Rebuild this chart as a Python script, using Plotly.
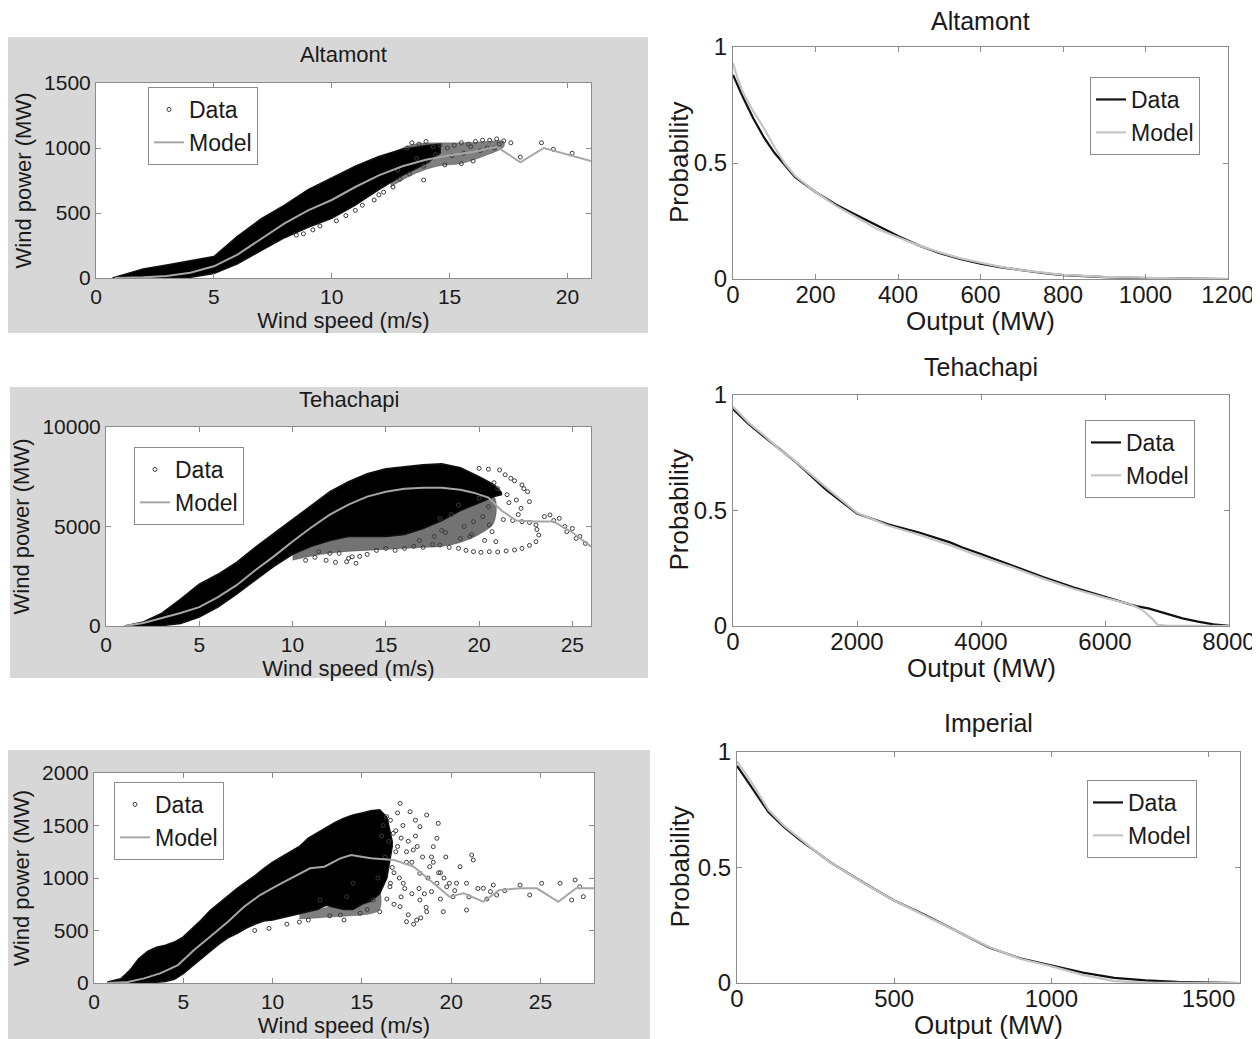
import plotly.graph_objects as go

# ---------------- data ----------------
# Altamont power curve: dense band, sparse fringe band, individual scattered points, model
alt_env_ws = [0.7, 1.5, 2, 3, 4, 5, 6, 7, 8, 9, 10, 11, 12, 13, 14, 14.6]
alt_env_hi = [0, 40, 70, 100, 130, 165, 320, 455, 560, 680, 770, 860, 935, 990, 1020, 1030]
alt_env_lo = [0, 0, 0, 0, 5, 35, 110, 210, 310, 390, 460, 560, 680, 790, 880, 960]
alt_fr_ws = [12.5, 13.5, 14.5, 15.5, 16.5, 17.3]
alt_fr_hi = [960, 1030, 1040, 1040, 1050, 1050]
alt_fr_lo = [700, 800, 860, 880, 940, 1010]
alt_sp_ws = [8.5, 8.8, 9.2, 9.5, 10.2, 10.6, 11.3, 11.8, 12.2, 12.6, 12.9, 13.2, 13.4, 13.7, 14.0,
             14.3, 14.6, 14.9, 15.2, 15.5, 15.8, 16.1, 16.4, 16.7, 17.0, 17.3, 15.1, 15.6, 16.0, 14.1,
             13.9, 16.9, 17.6, 18.0, 18.9, 19.4, 20.2, 12.0, 11.0, 14.8, 13.9, 13.3, 15.5, 16.3, 15.9,
             14.4, 13.6, 12.8, 16.6, 17.1]
alt_sp_mw = [330, 340, 370, 400, 440, 480, 560, 600, 660, 700, 760, 1000, 1040, 1030, 1050,
             1010, 1020, 1000, 1020, 1040, 1030, 1050, 1060, 1060, 1070, 1055, 940, 960, 900, 900,
             860, 1000, 1040, 930, 1040, 990, 960, 640, 520, 870, 754, 800, 880, 980, 1010,
             950, 920, 830, 1000, 1030]
alt_model_ws = [0.8, 2, 3, 4, 5, 6, 7, 8, 9, 10, 11, 12, 13, 14, 15, 16, 17, 18, 19, 20, 21]
alt_model_mw = [0, 5, 15, 40, 90, 180, 300, 420, 520, 600, 700, 790, 860, 910, 945, 970, 1010, 890, 1000, 950, 900]

# Tehachapi power curve
teh_env_ws = [1.0, 2, 3, 4, 5, 6, 7, 8, 9, 10, 11, 12, 13, 14, 15, 16, 17, 18, 19, 20, 20.8, 21.2]
teh_env_hi = [0, 200, 650, 1350, 2100, 2600, 3200, 3950, 4650, 5350, 6050, 6750, 7250, 7650, 7900, 8000, 8100, 8150, 7950, 7500, 7100, 6700]
teh_env_lo = [0, 0, 20, 120, 450, 950, 1600, 2300, 3000, 3600, 4000, 4300, 4500, 4500, 4500, 4600, 4900, 5300, 5800, 6200, 6500, 6600]
teh_fr_ws = [10, 11, 12, 13, 14, 15, 16, 17, 18, 19, 20, 20.8]
teh_fr_hi = [3700, 4100, 4500, 4600, 4600, 4600, 4700, 5000, 5400, 5900, 6300, 6500]
teh_fr_lo = [3300, 3500, 3650, 3750, 3800, 3850, 3900, 3950, 4000, 4200, 4600, 5200]
teh_sp_ws = [11.4, 12.0, 12.5, 12.9, 13.2, 13.4, 13.0, 11.8, 12.3, 14.5, 15.0, 15.5, 16.0, 16.5, 17.0, 17.5,
             17.9, 18.4, 18.9, 19.3, 19.7, 20.1, 20.55, 21.0, 21.45, 21.9, 22.3, 22.7, 23.05, 23.2, 23.1, 23.05,
             22.7, 22.3, 21.8, 21.3, 20.0, 20.5, 21.1, 21.7, 22.3, 22.6, 22.7, 22.25, 22.0, 21.5, 21.0, 20.8,
             19.7, 20.55, 18.9, 20.0, 20.5, 17.9, 18.5, 20.7, 20.9, 19.2, 18.0, 19.5, 20.2,
             23.8, 24.3, 24.7, 25.2, 25.7, 24.0, 25.0, 23.5, 10.7, 11.2, 21.4, 21.9, 22.4, 21.6, 22.1,
             19.0, 19.6, 20.3, 16.8, 17.6, 18.2, 14.0, 13.6, 24.6, 25.4]
teh_sp_mw = [3735, 3650, 3650, 3230, 3480, 3150, 3400, 3300, 3200, 3800, 3900, 3800, 3900, 4000, 3950, 4100,
             4070, 3950, 3900, 3800, 3735, 3700, 3735, 3720, 3770, 3820, 3900, 4050, 4240, 4570, 4850, 5075,
             5200, 5240, 5300, 5350, 7920, 7880, 7840, 7420, 7090, 6750, 6250, 5910, 6330, 6600, 6900, 7200,
             5240, 5075, 6080, 6420, 6000, 5410, 5600, 4740, 4240, 5000, 4800, 4500, 5500,
             5580, 5410, 4740, 4400, 4150, 5300, 4900, 5500, 3300, 3450, 7600, 7300, 6900, 6200, 5600,
             4400, 4600, 4300, 4300, 4500, 4700, 3600, 3500, 5000, 4500]
teh_model_ws = [1.0, 2, 3, 4, 5, 6, 7, 8, 9, 10, 11, 12, 13, 14, 15, 16, 17, 18, 19, 19.7, 20.5, 21.2, 22, 23, 24, 25, 26]
teh_model_mw = [0, 150, 400, 650, 950, 1450, 2050, 2800, 3500, 4250, 4950, 5600, 6100, 6500, 6750, 6900, 6950,
                6950, 6850, 6700, 6450, 5800, 5300, 5250, 5250, 4700, 4000]

# Imperial power curve
imp_env_ws = [0.75, 1.5, 2.0, 2.5, 3.0, 3.5, 4.0, 4.5, 5.0, 5.5, 6.0, 6.5, 7.0, 7.5, 8.0, 8.5, 9.0, 9.5,
              10.0, 10.5, 11.0, 11.5, 12.0, 12.5, 13.0, 13.5, 14.0, 14.5, 15.0, 15.5, 16.0, 16.4, 16.7]
imp_env_hi = [10, 40, 120, 230, 300, 340, 360, 390, 440, 520, 600, 690, 760, 830, 900, 960, 1020, 1090,
              1150, 1200, 1250, 1300, 1380, 1430, 1480, 1530, 1570, 1600, 1620, 1640, 1650, 1580, 1350]
imp_env_lo = [0, 0, 0, 0, 5, 8, 15, 35, 90, 160, 230, 300, 370, 430, 470, 520, 560, 590,
              600, 620, 640, 660, 680, 700, 740, 720, 700, 700, 750, 780, 850, 1000, 1300]
imp_fr_ws = [11.5, 12.5, 13.5, 14.5, 15.5, 16.0]
imp_fr_hi = [670, 700, 730, 710, 790, 860]
imp_fr_lo = [610, 620, 630, 640, 660, 700]
imp_sp_ws = [17.14, 17.7, 18.63, 19.28, 19.2, 19.0, 21.15, 21.24, 20.5, 20.86, 19.56, 20.86, 17.5, 18.07, 18.63,
             17.14, 16.0, 14.9, 13.8, 21.8, 22.36, 22.55, 23.86, 24.4, 25.07, 26.1, 26.94, 27.4, 27.2, 26.75,
             20.1, 19.75, 18.25, 17.32, 17.88, 16.76, 18.25, 16.39, 18.8, 19.2, 18.25, 16.57, 15.64, 14.15, 14.5,
             12.66, 17.5, 16.8, 17.0, 18.0, 16.6, 17.3, 19.6, 20.2, 21.0, 22.0, 21.5, 12.0, 11.5, 10.8, 9.8,
             9.0, 13.2, 14.0, 15.3, 17.6, 17.9, 18.3, 18.6, 17.0, 16.9, 18.9, 19.4, 20.3, 22.2, 23.0,
             16.2, 16.5, 16.9, 17.2, 17.5, 17.8, 18.1, 18.4, 18.7, 19.0, 19.3, 16.3, 16.7, 17.1, 17.4,
             17.8, 18.2, 18.5, 16.4, 16.8, 17.2, 18.9, 19.4, 16.1, 17.6, 18.0, 19.7, 19.9, 15.9, 16.6]
imp_sp_mw = [1711, 1631, 1600, 1521, 1378, 1298, 1219, 1171, 1108, 950, 679, 695, 584, 600, 679,
             727, 679, 664, 648, 902, 933, 838, 933, 838, 950, 950, 981, 822, 917, 790,
             822, 917, 1045, 950, 1267, 1426, 1489, 1584, 1108, 950, 790, 917, 790, 822, 950,
             790, 1150, 1050, 1300, 1400, 1550, 1500, 1000, 880, 820, 800, 900, 600, 580, 560, 520,
             500, 640, 600, 700, 650, 560, 620, 720, 1620, 1250, 1200, 1050, 950, 870, 880,
             1500, 1350, 1450, 1380, 1250, 1150, 1300, 1200, 1000, 1150, 1050, 1200, 1100, 1000, 900,
             850, 900, 850, 800, 750, 820, 870, 800, 1400, 1350, 1550, 1200, 950, 1000, 950]
imp_model_ws = [0.75, 1.9, 2.8, 3.7, 4.7, 5.6, 6.5, 7.5, 8.4, 9.3, 10.3, 11.2, 12.1, 12.9, 13.8, 14.4, 15.0,
                15.5, 16.8, 17.9, 18.8, 19.9, 20.7, 21.8, 22.7, 23.9, 24.8, 26.0, 27.0, 28.0]
imp_model_mw = [0, 10, 44, 92, 171, 314, 441, 584, 727, 838, 933, 1013, 1092, 1108, 1187, 1219, 1200,
                1188, 1171, 1108, 981, 822, 854, 774, 886, 902, 902, 774, 902, 902]

# Exceedance probability curves
alt_out = [0, 10, 25, 50, 75, 100, 125, 150, 200, 250, 300, 350, 400, 450, 500, 550, 600, 650, 700, 750, 800, 900, 1000, 1100, 1200]
alt_p_data = [0.88, 0.84, 0.78, 0.69, 0.61, 0.545, 0.49, 0.44, 0.375, 0.32, 0.275, 0.23, 0.185, 0.145, 0.112,
              0.087, 0.066, 0.05, 0.037, 0.026, 0.017, 0.008, 0.004, 0.001, 0]
alt_p_model = [0.93, 0.87, 0.80, 0.72, 0.65, 0.57, 0.50, 0.445, 0.375, 0.315, 0.265, 0.215, 0.18, 0.145, 0.115,
               0.09, 0.07, 0.052, 0.038, 0.027, 0.018, 0.009, 0.004, 0.0015, 0.0005]

teh_out_data = [0, 250, 500, 750, 1000, 1500, 2000, 2500, 3000, 3500, 3700, 4000, 4500, 5000, 5500, 6000,
                6500, 6700, 7000, 7250, 7500, 7750, 8000]
teh_p_data = [0.94, 0.875, 0.82, 0.765, 0.713, 0.59, 0.487, 0.44, 0.405, 0.362, 0.34, 0.312, 0.262, 0.212,
              0.166, 0.126, 0.086, 0.076, 0.054, 0.033, 0.019, 0.007, 0.001]
teh_out_model = [0, 250, 500, 750, 1000, 1500, 2000, 2500, 3000, 3500, 4000, 4500, 5000, 5500, 6000, 6400,
                 6600, 6750, 6850, 7000, 7500, 8000]
teh_p_model = [0.95, 0.88, 0.825, 0.765, 0.715, 0.60, 0.49, 0.435, 0.395, 0.35, 0.30, 0.255, 0.205, 0.16,
               0.122, 0.095, 0.07, 0.035, 0.005, 0.002, 0.001, 0.0]

imp_out = [0, 25, 50, 100, 150, 200, 250, 300, 400, 500, 600, 700, 800, 900, 1000, 1100, 1200, 1300, 1400, 1500, 1600]
imp_p_data = [0.94, 0.89, 0.84, 0.74, 0.675, 0.62, 0.57, 0.52, 0.436, 0.357, 0.293, 0.225, 0.155, 0.107, 0.075,
              0.045, 0.022, 0.011, 0.005, 0.002, 0.0]
imp_p_model = [0.96, 0.91, 0.86, 0.75, 0.68, 0.625, 0.57, 0.52, 0.435, 0.357, 0.29, 0.222, 0.157, 0.105, 0.072,
               0.035, 0.008, 0.002, 0.001, 0.0, 0.0]

# ---------------- styling / layout ----------------
OFF = 8                      # page body margin of the html page
W, H = 1260, 1039
FONT = "Liberation Sans, Arial, Helvetica, sans-serif"
TXT = "#1a1a1a"
AXC = "#8c8c8c"
PANEL_GRAY = "#d7d7d7"


def fx(px):
    return max(0.0, (px - OFF) / W)


def fy(py):
    return min(1.0, 1 - (py - OFF) / H)


fig = go.Figure()


def ax_ids(n):
    return ("x" if n == 1 else f"x{n}"), ("y" if n == 1 else f"y{n}")


def add_power_panel(n, legend, env_ws, hi, lo, fr_ws, fr_hi, fr_lo, fr_alpha, sp_ws, sp_mw, m_ws, m_mw):
    xa, ya = ax_ids(n)
    fig.add_trace(go.Scatter(x=fr_ws + fr_ws[::-1], y=fr_hi + fr_lo[::-1], mode="lines", fill="toself",
                             fillcolor=f"rgba(0,0,0,{fr_alpha})", line=dict(color="rgba(0,0,0,0.2)", width=1),
                             line_shape="spline", showlegend=False, hoverinfo="skip", xaxis=xa, yaxis=ya))
    fig.add_trace(go.Scatter(x=env_ws + env_ws[::-1], y=hi + lo[::-1], mode="lines", fill="toself",
                             fillcolor="#000000", line=dict(color="#111111", width=1.5),
                             showlegend=False, hoverinfo="skip", xaxis=xa, yaxis=ya))
    fig.add_trace(go.Scatter(x=sp_ws, y=sp_mw, mode="markers", name="Data", legend=legend,
                             marker=dict(symbol="circle-open", size=4, color="#3c3c3c", line=dict(width=1)),
                             xaxis=xa, yaxis=ya))
    fig.add_trace(go.Scatter(x=m_ws, y=m_mw, mode="lines", name="Model", legend=legend,
                             line=dict(color="#a6a6a6", width=2), xaxis=xa, yaxis=ya))


def add_prob_panel(n, legend, xd, yd, xm, ym):
    xa, ya = ax_ids(n)
    fig.add_trace(go.Scatter(x=xd, y=yd, mode="lines", name="Data", legend=legend,
                             line=dict(color="#111111", width=2.2), xaxis=xa, yaxis=ya))
    fig.add_trace(go.Scatter(x=xm, y=ym, mode="lines", name="Model", legend=legend,
                             line=dict(color="#c4c4c4", width=2.2), xaxis=xa, yaxis=ya))


add_power_panel(1, "legend", alt_env_ws, alt_env_hi, alt_env_lo, alt_fr_ws, alt_fr_hi, alt_fr_lo, 0.5,
                alt_sp_ws, alt_sp_mw, alt_model_ws, alt_model_mw)
add_prob_panel(2, "legend2", alt_out, alt_p_data, alt_out, alt_p_model)
add_power_panel(3, "legend3", teh_env_ws, teh_env_hi, teh_env_lo, teh_fr_ws, teh_fr_hi, teh_fr_lo, 0.55,
                teh_sp_ws, teh_sp_mw, teh_model_ws, teh_model_mw)
add_prob_panel(4, "legend4", teh_out_data, teh_p_data, teh_out_model, teh_p_model)
add_power_panel(5, "legend5", imp_env_ws, imp_env_hi, imp_env_lo, imp_fr_ws, imp_fr_hi, imp_fr_lo, 0.5,
                imp_sp_ws, imp_sp_mw, imp_model_ws, imp_model_mw)
add_prob_panel(6, "legend6", imp_out, imp_p_data, imp_out, imp_p_model)

# panel geometry in reference pixels: (left, right, top, bottom)
geo = {
    1: (96, 591, 83, 278),
    2: (733, 1228, 47, 279),
    3: (106, 591, 427, 626),
    4: (733, 1229, 395, 626),
    5: (94, 594, 773, 983),
    6: (737, 1240, 752, 983),
}
axis_spec = {
    1: dict(xr=[0, 21], xt=[0, 5, 10, 15, 20], yr=[0, 1500], yt=[0, 500, 1000, 1500],
            xtitle="Wind speed (m/s)", ytitle="Wind power (MW)", tick=21, ttl=22),
    2: dict(xr=[0, 1200], xt=[0, 200, 400, 600, 800, 1000, 1200], yr=[0, 1], yt=[0, 0.5, 1],
            xtitle="Output (MW)", ytitle="Probability", tick=24, ttl=26),
    3: dict(xr=[0, 26], xt=[0, 5, 10, 15, 20, 25], yr=[0, 10000], yt=[0, 5000, 10000],
            xtitle="Wind speed (m/s)", ytitle="Wind power (MW)", tick=21, ttl=22),
    4: dict(xr=[0, 8000], xt=[0, 2000, 4000, 6000, 8000], yr=[0, 1], yt=[0, 0.5, 1],
            xtitle="Output (MW)", ytitle="Probability", tick=24, ttl=26),
    5: dict(xr=[0, 28], xt=[0, 5, 10, 15, 20, 25], yr=[0, 2000], yt=[0, 500, 1000, 1500, 2000],
            xtitle="Wind speed (m/s)", ytitle="Wind power (MW)", tick=21, ttl=22),
    6: dict(xr=[0, 1600], xt=[0, 500, 1000, 1500], yr=[0, 1], yt=[0, 0.5, 1],
            xtitle="Output (MW)", ytitle="Probability", tick=24, ttl=26),
}
right_panels = (2, 4, 6)

annotations = []
layout_axes = {}
for n, (l, r, t, b) in geo.items():
    s = axis_spec[n]
    xa, ya = ax_ids(n)
    xkey = "xaxis" if n == 1 else f"xaxis{n}"
    ykey = "yaxis" if n == 1 else f"yaxis{n}"
    common = dict(ticks="inside", ticklen=5, tickcolor=AXC, showline=True, linecolor=AXC, linewidth=1,
                  mirror="ticks", showgrid=False, zeroline=False, fixedrange=True, automargin=False,
                  tickfont=dict(family=FONT, size=s["tick"], color=TXT))
    xdict = dict(domain=[fx(l), fx(r)], range=s["xr"], tickvals=s["xt"], anchor=ya, tickformat="d", **common)
    ydict = dict(domain=[fy(b), fy(t)], range=s["yr"], tickvals=s["yt"], anchor=xa, **common)
    tfont = dict(family=FONT, size=s["ttl"], color=TXT)
    if n in right_panels:
        # MATLAB-like tight placement of the labels of the probability panels
        xdict["ticklabelstandoff"] = -6
        annotations.append(dict(text=s["xtitle"], x=fx((l + r) / 2), y=fy(b + 42), xref="paper", yref="paper",
                                xanchor="center", yanchor="middle", showarrow=False, font=tfont))
        annotations.append(dict(text=s["ytitle"], x=fx(679), y=fy((t + b) / 2), xref="paper", yref="paper",
                                xanchor="center", yanchor="middle", showarrow=False, textangle=-90, font=tfont))
    else:
        xdict["title"] = dict(text=s["xtitle"], standoff=0, font=tfont)
        ydict["title"] = dict(text=s["ytitle"], standoff=6, font=tfont)
    if s["yr"][1] > 1:
        ydict["tickformat"] = "d"
    layout_axes[xkey] = xdict
    layout_axes[ykey] = ydict

# legends (reference pixel positions of the top-left corner)
leg_pos = {
    "legend": (148, 87), "legend2": (1090, 77),
    "legend3": (134, 447), "legend4": (1085, 420),
    "legend5": (114, 782), "legend6": (1087, 780),
}
legends = {}
for k, (px, py) in leg_pos.items():
    legends[k] = dict(x=fx(px), y=fy(py), xanchor="left", yanchor="top", bgcolor="white",
                      bordercolor=AXC, borderwidth=1, itemwidth=30, tracegroupgap=0,
                      font=dict(family=FONT, size=23, color=TXT))

# gray figure backgrounds behind the left column, white plot areas on top
shapes = []
for (l, r, t, b) in [(8, 648, 37, 333), (10, 648, 387, 678), (7, 650, 750, 1039)]:
    shapes.append(dict(type="rect", xref="paper", yref="paper", x0=fx(l), x1=fx(r), y0=fy(b), y1=fy(t),
                       fillcolor=PANEL_GRAY, line=dict(width=0), layer="below"))
for n in (1, 3, 5):
    xa, ya = ax_ids(n)
    shapes.append(dict(type="rect", xref=f"{xa} domain", yref=f"{ya} domain", x0=0, x1=1, y0=0, y1=1,
                       fillcolor="white", line=dict(width=0), layer="below"))

# subplot titles
for n, text, size, gap in [(1, "Altamont", 22, 28), (3, "Tehachapi", 22, 27),
                           (2, "Altamont", 25, 26), (4, "Tehachapi", 25, 28), (6, "Imperial", 25, 29)]:
    l, r, t, b = geo[n]
    annotations.append(dict(text=text, x=fx((l + r) / 2), y=fy(t - gap), xref="paper", yref="paper",
                            xanchor="center", yanchor="middle", showarrow=False,
                            font=dict(family=FONT, size=size, color=TXT)))

fig.update_layout(width=W, height=H, autosize=False,
                  margin=dict(l=0, r=0, t=0, b=0, pad=0, autoexpand=False),
                  paper_bgcolor="white", plot_bgcolor="white", showlegend=True,
                  font=dict(family=FONT, color=TXT), hovermode=False,
                  shapes=shapes, annotations=annotations, **layout_axes, **legends)

fig.write_html("out.html")
